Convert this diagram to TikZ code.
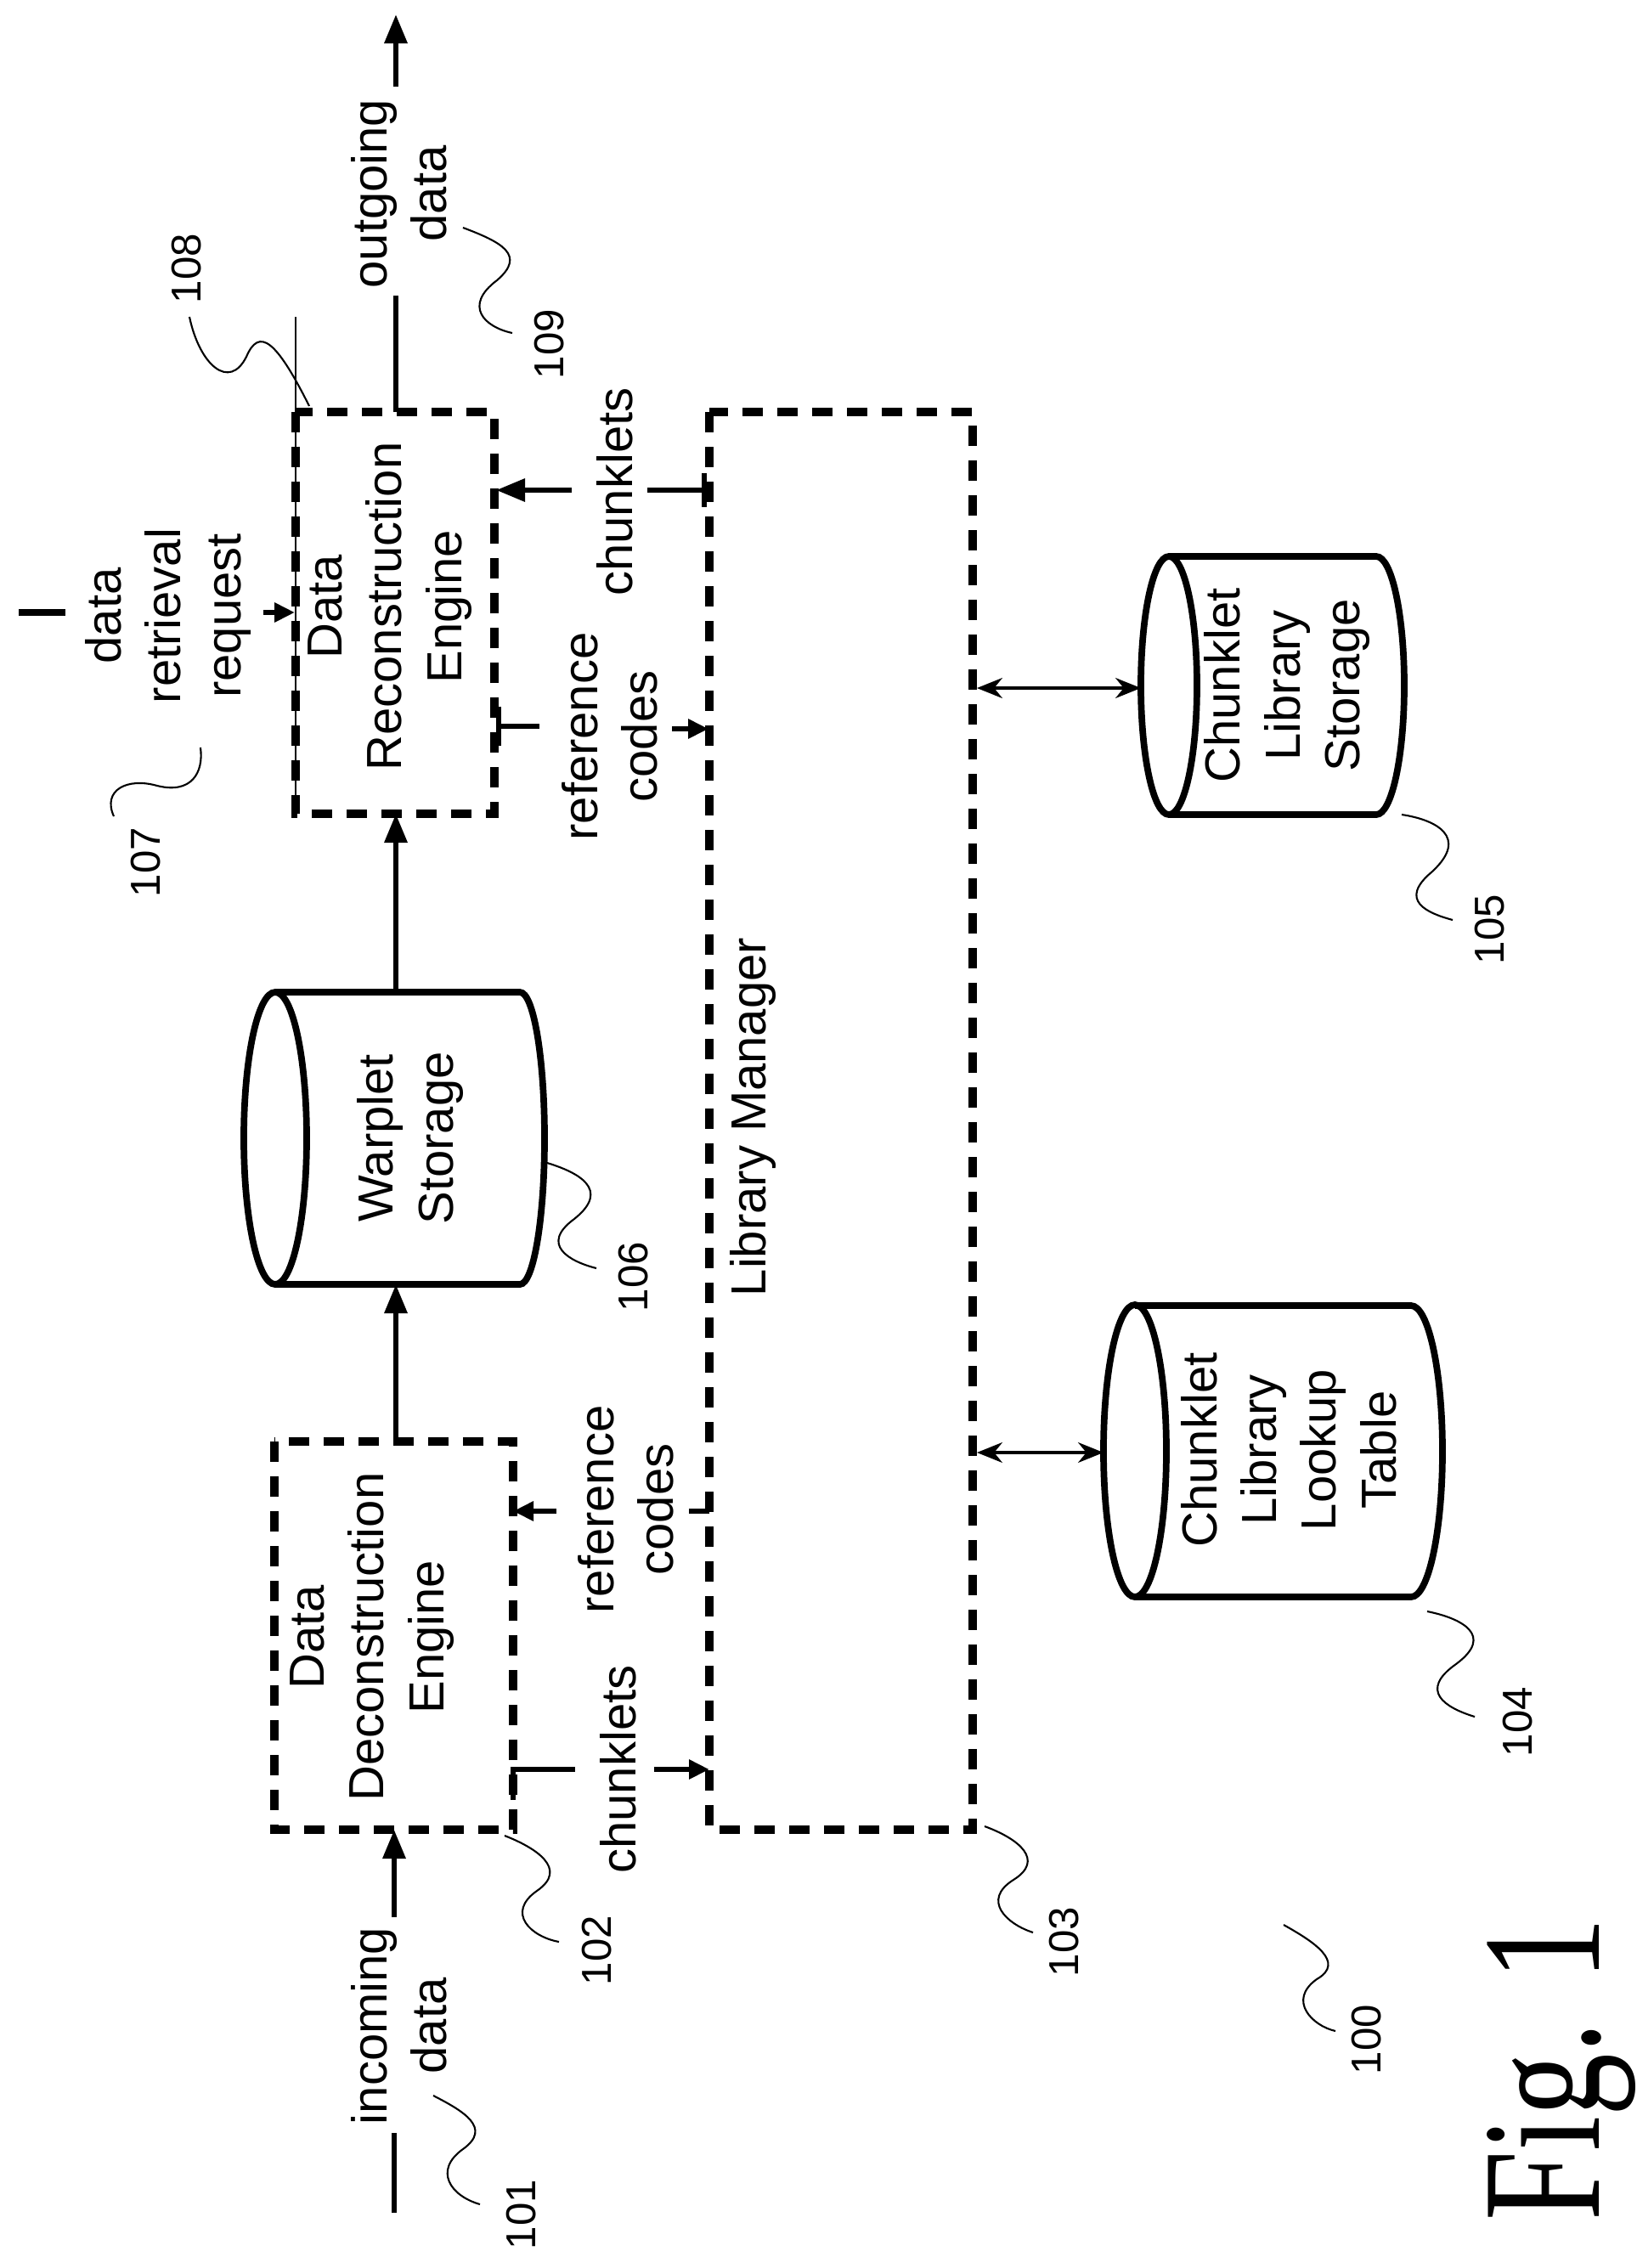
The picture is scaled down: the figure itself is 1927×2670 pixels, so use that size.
\documentclass[tikz,border=0pt]{standalone}
\usepackage{fontspec}
\setmainfont{Liberation Sans}
\newfontfamily\figfont{Liberation Serif}
\usetikzlibrary{arrows.meta}
\begin{document}
\begin{tikzpicture}[x=0.1mm,y=-0.1mm,
  box/.style={line width=2.6pt,dash pattern=on 2.4mm off 1.7mm},
  conn/.style={line width=1.8pt},
  arr/.style={conn,-{Triangle[length=3.4mm,width=2.6mm]}},
  sarr/.style={conn,-{Triangle[length=2.4mm,width=2.2mm]}},
  darr/.style={line width=0.9pt,{Stealth[length=3mm,width=2.4mm]}-{Stealth[length=3mm,width=2.4mm]}},
  cyl/.style={line width=2.2pt},
  sq/.style={line width=0.6pt},
  txt/.style={rotate=90,align=center,font=\fontsize{16.5}{20}\selectfont,inner sep=0pt},
  num/.style={rotate=90,font=\fontsize{14}{16}\selectfont,inner sep=0pt}]
\useasboundingbox (0,0) rectangle (1927,2670);
\fill[white] (0,0) rectangle (1927,2670);

% boxes
\draw[box] (323,1697) rectangle (604,2154);
\draw[box] (348,485) rectangle (582,958);
\draw[box] (835,485) rectangle (1145,2154);
\coordinate (dec-b) at (464,2154);
\coordinate (dec-t) at (466,1697);
\coordinate (rec-b) at (466,958);
\coordinate (rec-t) at (466,485);

\node[txt] (dectxt) at (438,1927) {Data\\Deconstruction\\Engine};
\node[txt] (rectxt) at (459,714) {Data\\Reconstruction\\Engine};
\node[txt] (libtxt) at (886,1315) {Library Manager};

% warplet cylinder
\draw[cyl] (324,1340) ellipse [x radius=37, y radius=172];
\draw[cyl] (324,1168) -- (612,1168) arc[start angle=-90,end angle=90,x radius=29,y radius=172] -- (324,1512);
\coordinate (war-t) at (466,1168);
\coordinate (war-b) at (466,1512);
\node[txt] (wartxt) at (483,1340) {Warplet\\Storage};

% chunklet library storage
\draw[cyl] (1376,807) ellipse [x radius=33, y radius=152];
\draw[cyl] (1376,655) -- (1620,655) arc[start angle=-90,end angle=90,x radius=33,y radius=152] -- (1376,959);
\coordinate (cls-w) at (1343,810);
\node[txt] (clstxt) at (1515,807) {Chunklet\\Library\\Storage};

% chunklet library lookup table
\draw[cyl] (1336,1708) ellipse [x radius=37, y radius=172];
\draw[cyl] (1336,1537) -- (1661,1537) arc[start angle=-90,end angle=90,x radius=37,y radius=171.5] -- (1336,1880);
\coordinate (clt-w) at (1299,1710);
\node[txt] (clttxt) at (1517,1707) {Chunklet\\Library\\Lookup\\Table};

% library side coordinates
\coordinate (lib-a) at (1150,810);
\coordinate (lib-b) at (1150,1710);
\draw[darr] (lib-a) -- (cls-w);
\draw[darr] (lib-b) -- (clt-w);

% incoming data
\node[txt] (intxt) at (470,2385) {incoming\\data};
\coordinate (in0) at (464,2605);
\coordinate (in1) at (464,2511);
\coordinate (in2) at (464,2257);
\draw[conn] (in0) -- (in1);
\draw[arr] (in2) -- (dec-b);

% vertical flow
\draw[arr] (dec-t) -- (war-b);
\draw[arr] (war-t) -- (rec-b);

% outgoing data
\node[txt] (outtxt) at (470,228) {outgoing\\data};
\coordinate (out1) at (466,348);
\coordinate (out2) at (466,102);
\coordinate (out3) at (466,17);
\draw[conn] (rec-t) -- (out1);
\draw[arr] (out2) -- (out3);

% data retrieval request
\node[txt] (drrtxt) at (198,725) {data\\retrieval\\request};
\coordinate (dr0) at (22,721);
\coordinate (dr1) at (77,721);
\coordinate (dr2) at (310,721);
\coordinate (dr3) at (347,721);
\draw[line width=2.4pt] (dr0) -- (dr1);
\draw[sarr] (dr2) -- (dr3);

% recon chunklets
\node[txt] (rchtxt) at (724,579) {chunklets};
\coordinate (rc1) at (832,577);
\coordinate (rc2) at (762,577);
\coordinate (rc3) at (673,577);
\coordinate (rc4) at (584,577);
\draw[conn,{Bar[width=4mm]}-] (rc1) -- (rc2);
\draw[arr] (rc3) -- (rc4);

% recon reference codes
\node[txt] (rrctxt) at (718,867) {reference\\codes};
\coordinate (rr1) at (584,855);
\coordinate (rr2) at (635,855);
\coordinate (rr3) at (791,858);
\coordinate (rr4) at (834,858);
\draw[conn,{Bar[width=4.6mm]}-] (rr1) -- (rr2);
\draw[sarr] (rr3) -- (rr4);

% decon reference codes
\node[txt] (drctxt) at (737,1777) {reference\\codes};
\coordinate (dc1) at (835,1779);
\coordinate (dc2) at (811,1779);
\coordinate (dc3) at (655,1779);
\coordinate (dc4) at (604,1779);
\draw[conn] (dc1) -- (dc2);
\draw[sarr] (dc3) -- (dc4);

% decon chunklets
\node[txt] (dchtxt) at (728,2083) {chunklets};
\coordinate (ch0) at (604,2119);
\coordinate (ch1) at (604,2083);
\coordinate (ch2) at (677,2083);
\coordinate (ch3) at (770,2083);
\coordinate (ch4) at (835,2083);
\draw[conn] (ch0) -- (ch1) -- (ch2);
\draw[sarr] (ch3) -- (ch4);

% 108 leader line
\coordinate (l108a) at (348,373);
\coordinate (l108b) at (348,958);
\draw[line width=0.8pt] (l108a) -- (l108b);

% reference numerals
\node[num] (n101) at (614,2607) {101};
\node[num] (n102) at (703,2296) {102};
\node[num] (n103) at (1253,2286) {103};
\node[num] (n104) at (1787,2027) {104};
\node[num] (n105) at (1754,1094) {105};
\node[num] (n106) at (746,1503) {106};
\node[num] (n107) at (172,1015) {107};
\node[num] (n108) at (220,316) {108};
\node[num] (n109) at (647,405) {109};
\node[num] (n100) at (1609,2401) {100};

% squiggles
\draw[sq] (510,2467) .. controls (545,2485) and (580,2505) .. (545,2530) .. controls (510,2555) and (530,2585) .. (565,2595);
\draw[sq] (594,2161) .. controls (630,2175) and (670,2200) .. (632,2226) .. controls (595,2252) and (625,2280) .. (658,2286);
\draw[sq] (1159,2150) .. controls (1200,2165) and (1230,2190) .. (1193,2213) .. controls (1155,2237) and (1185,2265) .. (1216,2275);
\draw[sq] (1680,1897) .. controls (1720,1905) and (1760,1925) .. (1714,1959) .. controls (1670,1990) and (1700,2010) .. (1736,2021);
\draw[sq] (1650,959) .. controls (1690,965) and (1730,985) .. (1686,1026) .. controls (1645,1060) and (1680,1075) .. (1710,1083);
\draw[sq] (644,1369) .. controls (680,1380) and (720,1400) .. (676,1435) .. controls (635,1465) and (670,1485) .. (702,1493);
\draw[sq] (134,961) .. controls (120,930) and (150,915) .. (185,925) .. controls (225,935) and (240,910) .. (236,880);
\draw[sq] (223,373) .. controls (235,430) and (270,460) .. (290,420) .. controls (305,385) and (325,400) .. (364,478);
\draw[sq] (545,268) .. controls (590,285) and (620,300) .. (585,330) .. controls (545,360) and (570,385) .. (603,392);
\draw[sq] (1511,2266) .. controls (1545,2285) and (1585,2310) .. (1550,2330) .. controls (1515,2355) and (1545,2385) .. (1572,2391);

% figure label
\node[rotate=90,inner sep=0pt,font=\figfont\fontsize{42}{44}\selectfont] (fig) at (1838,2436) {\scalebox{1}[1.35]{Fig. 1}};
\end{tikzpicture}
\end{document}
